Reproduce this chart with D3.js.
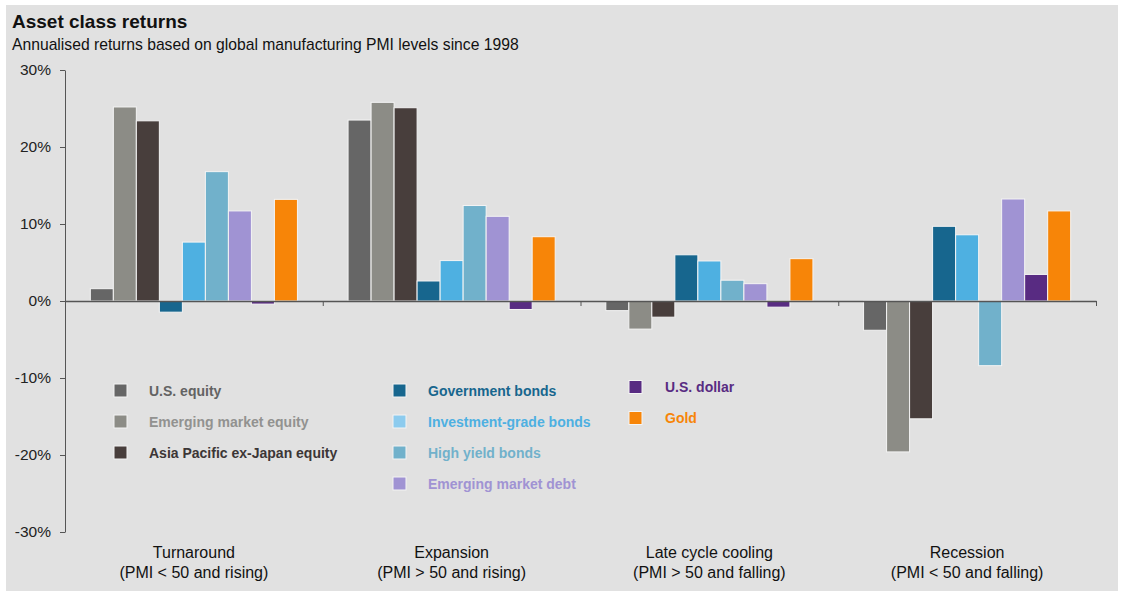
<!DOCTYPE html>
<html lang="en">

<head>
  <meta charset="UTF-8">
  <title>Asset class returns</title>
  <script src="https://d3js.org/d3.v7.min.js"></script>
  <style>
    body {
      margin: 0;
      background: white;
    }

    svg {
      display: block;
      font-family: Arial, "Liberation Sans", sans-serif;
    }

    .axis path,
    .axis line {
      stroke: #555;
    }

    .axis text {
      font-size: 15.5px;
      fill: #222;
    }
  </style>
</head>

<body>
  <div id="chart"></div>

  <script>
    // phases of the PMI cycle
    const categories = ["Turnaround", "Expansion", "Late cycle cooling", "Recession"]
    const subLabels = ["(PMI < 50 and rising)", "(PMI > 50 and rising)", "(PMI > 50 and falling)", "(PMI < 50 and falling)"]

    const seriesNames = ["U.S. equity", "Emerging market equity", "Asia Pacific ex-Japan equity",
      "Government bonds", "Investment-grade bonds", "High yield bonds", "Emerging market debt",
      "U.S. dollar", "Gold"]

    // annualised returns (%), one value per phase
    const usEquity = [1.6, 23.5, -1.25, -3.8]
    const emEquity = [25.2, 25.8, -3.65, -19.6]
    const asiaEquity = [23.4, 25.1, -2.1, -15.3]
    const govBonds = [-1.45, 2.6, 6.0, 9.7]
    const igBonds = [7.65, 5.25, 5.2, 8.6]
    const hyBonds = [16.8, 12.4, 2.7, -8.4]
    const emDebt = [11.7, 11.0, 2.25, 13.25]
    const usDollar = [-0.4, -1.1, -0.8, 3.45]
    const gold = [13.2, 8.35, 5.5, 11.7]

    const yTicks = [-30, -20, -10, 0, 10, 20, 30]

    const seriesValues = [usEquity, emEquity, asiaEquity, govBonds, igBonds, hyBonds, emDebt, usDollar, gold]
    const barColors = ["#666666", "#8c8c86", "#483e3c", "#17668e", "#4eb0e1", "#71b1cb", "#a093d3", "#582b82", "#f78508"]
    const swatchColors = ["#666666", "#8c8c86", "#483e3c", "#17668e", "#8ccbee", "#71b1cb", "#a093d3", "#582b82", "#f78508"]
    const textColors = ["#636363", "#929290", "#3c3636", "#17668e", "#4eb0e1", "#71b1cb", "#a093d3", "#582b82", "#f78508"]

    const width = 1121
    const height = 591

    const svg = d3.select("#chart")
      .append("svg")
      .attr("width", width)
      .attr("height", height)

    svg.append("rect")
      .attr("x", 6)
      .attr("y", 5)
      .attr("width", 1112)
      .attr("height", 586)
      .attr("fill", "#e1e1e1")

    svg.append("text")
      .attr("x", 12)
      .attr("y", 28)
      .attr("font-size", "19px")
      .attr("font-weight", "bold")
      .attr("fill", "#111")
      .text("Asset class returns")

    svg.append("text")
      .attr("x", 12)
      .attr("y", 50)
      .attr("font-size", "15.7px")
      .attr("fill", "#111")
      .text("Annualised returns based on global manufacturing PMI levels since 1998")

    const left = 65
    const right = 1096

    const y = d3.scaleLinear()
      .domain([-30, 30])
      .range([532, 70])

    const x0 = d3.scaleBand()
      .domain(categories)
      .range([left, right])
      .padding(0)

    const x1 = d3.scaleBand()
      .domain(seriesNames)
      .range([0, x0.bandwidth()])
      .paddingInner(0)
      .paddingOuter(1.1)

    // bars
    const rows = []
    categories.forEach((c, ci) => {
      seriesNames.forEach((s, si) => {
        rows.push({ cat: c, series: s, si: si, value: seriesValues[si][ci] })
      })
    })

    svg.append("g")
      .selectAll("rect")
      .data(rows)
      .enter()
      .append("rect")
      .attr("x", d => x0(d.cat) + x1(d.series))
      .attr("y", d => Math.min(y(d.value), y(0)))
      .attr("width", x1.bandwidth())
      .attr("height", d => Math.abs(y(d.value) - y(0)))
      .attr("fill", d => barColors[d.si])
      .attr("stroke", "#f4f4f4")
      .attr("stroke-width", 1)

    // y axis
    svg.append("g")
      .attr("class", "axis")
      .attr("transform", `translate(${left},0)`)
      .call(d3.axisLeft(y)
        .tickValues(yTicks)
        .tickFormat(d => d + "%")
        .tickSize(5)
        .tickSizeOuter(0)
        .tickPadding(9))

    // zero line with phase separators
    const xSep = d3.scaleLinear()
      .domain([0, categories.length])
      .range([left, right])

    const zeroAxis = svg.append("g")
      .attr("class", "axis")
      .attr("transform", `translate(0,${y(0)})`)
      .call(d3.axisBottom(xSep)
        .tickValues([1, 2, 3, 4])
        .tickFormat("")
        .tickSize(5)
        .tickSizeOuter(0))

    zeroAxis.select(".domain")
      .attr("stroke", "#5e5e5e")
      .attr("stroke-width", 1.6)

    // phase labels
    svg.append("g")
      .selectAll("text")
      .data(categories)
      .enter()
      .append("text")
      .attr("x", d => x0(d) + x0.bandwidth() / 2)
      .attr("y", 558)
      .attr("text-anchor", "middle")
      .attr("font-size", "16px")
      .attr("fill", "#111")
      .text(d => d)

    svg.append("g")
      .selectAll("text")
      .data(subLabels)
      .enter()
      .append("text")
      .attr("x", (_, i) => x0(categories[i]) + x0.bandwidth() / 2)
      .attr("y", 578)
      .attr("text-anchor", "middle")
      .attr("font-size", "16px")
      .attr("fill", "#111")
      .text(d => d)

    // legend
    const legendCol = [0, 0, 0, 1, 1, 1, 1, 2, 2]
    const legendRow = [0, 1, 2, 0, 1, 2, 3, 0, 1]
    const colSwatchX = [114, 393, 629]
    const colTextX = [149, 428, 665]
    const colTop = [390.5, 390.5, 387]
    const rowGap = 31

    const legend = svg.append("g")
      .attr("id", "legend")

    legend.selectAll("rect")
      .data(seriesNames)
      .enter()
      .append("rect")
      .attr("x", (_, i) => colSwatchX[legendCol[i]])
      .attr("y", (_, i) => colTop[legendCol[i]] + legendRow[i] * rowGap - 6.5)
      .attr("width", 13)
      .attr("height", 13)
      .attr("fill", (_, i) => swatchColors[i])
      .attr("stroke", "#f4f4f4")
      .attr("stroke-width", 1)

    legend.selectAll("text")
      .data(seriesNames)
      .enter()
      .append("text")
      .attr("x", (_, i) => colTextX[legendCol[i]])
      .attr("y", (_, i) => colTop[legendCol[i]] + legendRow[i] * rowGap + 5)
      .attr("font-size", "14px")
      .attr("font-weight", "bold")
      .attr("fill", (_, i) => textColors[i])
      .text(d => d)
  </script>
</body>

</html>
